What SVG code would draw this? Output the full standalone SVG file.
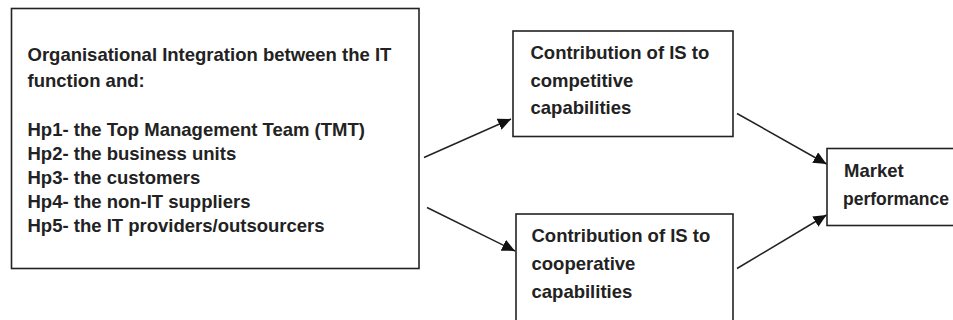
<svg xmlns="http://www.w3.org/2000/svg" width="953" height="320" viewBox="0 0 953 320">
<style>
.box{fill:#fff;stroke:#222;stroke-width:1.6}
.t{font-family:"Liberation Sans",Arial,Helvetica,sans-serif;font-weight:bold;font-size:18.5px;fill:#222}
.c{stroke:#222;stroke-width:1.5;fill:none;marker-end:url(#ah)}
</style>
<defs>
<marker id="ah" markerUnits="userSpaceOnUse" markerWidth="14" markerHeight="12" viewBox="0 0 14 12" refX="13" refY="6" orient="auto">
<path d="M0,0 L13,6 L0,12 Z" fill="#111"/>
</marker>
</defs>
<rect width="953" height="320" fill="#fff"/>
<g id="integration">
<rect class="box" x="11.5" y="8.5" width="407.5" height="260"/>
<text class="t" x="27.5" y="61">Organisational Integration between the IT</text>
<text class="t" x="27.5" y="86.5">function and:</text>
<text class="t" x="27.5" y="136">Hp1- the Top Management Team (TMT)</text>
<text class="t" x="27.5" y="160">Hp2- the business units</text>
<text class="t" x="27.5" y="184">Hp3- the customers</text>
<text class="t" x="27.5" y="208">Hp4- the non-IT suppliers</text>
<text class="t" x="27.5" y="232">Hp5- the IT providers/outsourcers</text>
</g>
<g id="competitive">
<rect class="box" x="513" y="31" width="220" height="105.5"/>
<text class="t" x="530.5" y="58.5">Contribution of IS to</text>
<text class="t" x="530.5" y="86.5">competitive</text>
<text class="t" x="530.5" y="113.5">capabilities</text>
</g>
<g id="cooperative">
<rect class="box" x="516" y="214" width="217" height="120"/>
<text class="t" x="531.5" y="241.5">Contribution of IS to</text>
<text class="t" x="531.5" y="270">cooperative</text>
<text class="t" x="531.5" y="297.5">capabilities</text>
</g>
<g id="market">
<rect class="box" x="827" y="148.5" width="200" height="77"/>
<text class="t" x="844" y="176.5">Market</text>
<text class="t" x="843" y="204.5" style="font-size:17.5px">performance</text>
</g>
<g id="connectors">
<line class="c" x1="424" y1="157.5" x2="511" y2="119"/>
<line class="c" x1="427" y1="207.5" x2="515" y2="251"/>
<line class="c" x1="737" y1="113.5" x2="826.5" y2="164"/>
<line class="c" x1="737" y1="268.5" x2="826.5" y2="215"/>
</g>
</svg>
